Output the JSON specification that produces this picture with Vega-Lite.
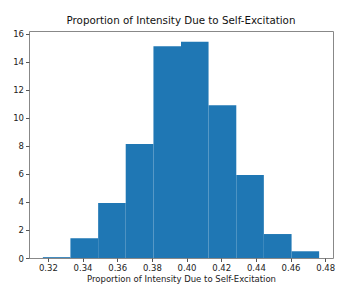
{
  "$schema": "https://vega.github.io/schema/vega-lite/v6.json",
  "width": 304,
  "height": 227,
  "autosize": {"type": "none"},
  "padding": {"left": 29, "top": 31, "right": 23, "bottom": 45},
  "background": "white",
  "title": {
    "text": "Proportion of Intensity Due to Self-Excitation",
    "font": "DejaVu Sans",
    "fontSize": 10.3,
    "fontWeight": "normal",
    "color": "#111",
    "anchor": "middle",
    "offset": 4
  },
  "data": {
    "values": [
      {"start": 0.3171, "end": 0.3330, "density": 0.06},
      {"start": 0.3330, "end": 0.3490, "density": 1.41},
      {"start": 0.3490, "end": 0.3649, "density": 3.93},
      {"start": 0.3649, "end": 0.3809, "density": 8.14},
      {"start": 0.3809, "end": 0.3968, "density": 15.12},
      {"start": 0.3968, "end": 0.4127, "density": 15.43},
      {"start": 0.4127, "end": 0.4287, "density": 10.9},
      {"start": 0.4287, "end": 0.4446, "density": 5.93},
      {"start": 0.4446, "end": 0.4606, "density": 1.71},
      {"start": 0.4606, "end": 0.4765, "density": 0.48}
    ]
  },
  "mark": {"type": "bar", "color": "#1f77b4", "stroke": null},
  "encoding": {
    "x": {
      "field": "start",
      "type": "quantitative",
      "scale": {"domain": [0.3091, 0.4845], "nice": false, "zero": false},
      "axis": {
        "title": "Proportion of Intensity Due to Self-Excitation",
        "values": [0.32, 0.34, 0.36, 0.38, 0.40, 0.42, 0.44, 0.46, 0.48],
        "format": ".2f",
        "grid": false,
        "domain": false,
        "tickSize": 3.5,
        "tickColor": "#555",
        "labelPadding": 2,
        "labelFont": "DejaVu Sans",
        "labelFontSize": 8.5,
        "labelColor": "#222",
        "titleFont": "DejaVu Sans",
        "titleFontSize": 8.5,
        "titleFontWeight": "normal",
        "titleColor": "#222",
        "titlePadding": 2
      }
    },
    "x2": {"field": "end"},
    "y": {
      "field": "density",
      "type": "quantitative",
      "scale": {"domain": [0, 16.2], "nice": false},
      "axis": {
        "title": null,
        "values": [0, 2, 4, 6, 8, 10, 12, 14, 16],
        "grid": false,
        "domain": false,
        "tickSize": 3.5,
        "tickColor": "#555",
        "labelPadding": 2,
        "labelFont": "DejaVu Sans",
        "labelFontSize": 8.5,
        "labelColor": "#222"
      }
    },
    "y2": {"datum": 0}
  },
  "config": {
    "view": {"stroke": "#888", "strokeWidth": 1}
  }
}
